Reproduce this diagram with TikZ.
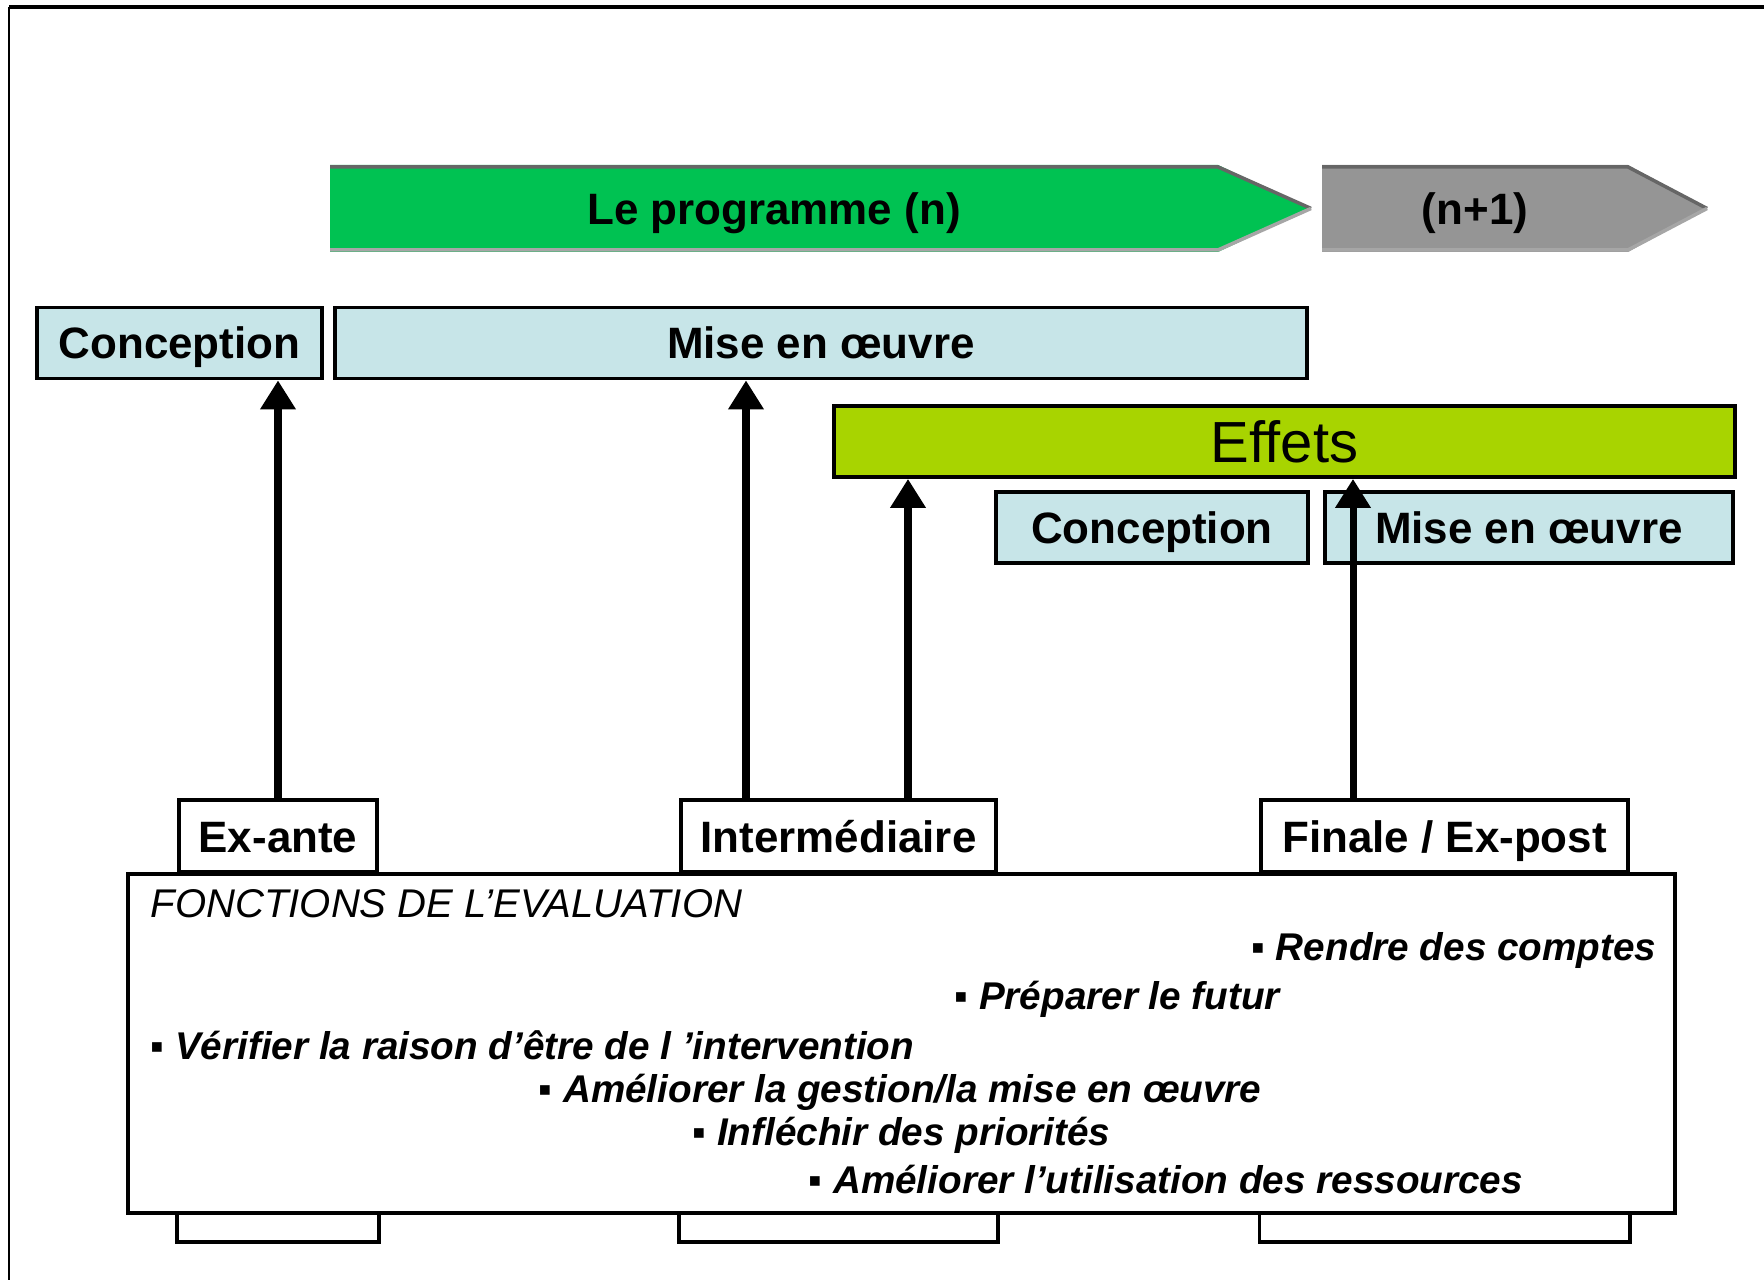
\documentclass[tikz,border=0pt]{standalone}
\usepackage{fontspec}
\setmainfont{Liberation Sans}
\usetikzlibrary{arrows.meta,positioning}
\definecolor{progGreen}{RGB}{0,194,82}
\definecolor{nextGray}{RGB}{149,149,149}
\definecolor{phaseBlue}{RGB}{199,229,232}
\definecolor{effetsLime}{RGB}{168,212,0}
\tikzset{
  phasenode/.style = {align=center, inner sep=0pt, text centered,
    font=\fontsize{12.5}{15}\selectfont\bfseries, draw=black,
    line width=1.1pt, minimum height=0.71cm, text height=9pt, text depth=0pt},
  ph_b/.style = {phasenode, fill=phaseBlue},
  ph_e/.style = {phasenode, fill=effetsLime,
    font=\fontsize{16.5}{19}\selectfont, text height=11.8pt},
  ph_w/.style = {phasenode, fill=white, line width=1pt,
    minimum height=0.72cm, anchor=south},
  prog_t/.style = {inner sep=0pt, font=\fontsize{12.5}{15}\selectfont\bfseries,
    text height=9pt, text depth=0pt},
  fn_head/.style = {inner sep=0pt, anchor=west,
    font=\fontsize{11.4}{13}\selectfont\itshape},
  fn_item/.style = {inner sep=0pt, anchor=west,
    font=\fontsize{11}{13}\selectfont\bfseries\itshape},
  arrow_k/.style = {->, line width=2pt}}

\begin{document}
\begin{tikzpicture}[>={Triangle[length=2.9mm,width=3.4mm]}]
\useasboundingbox (0,0) rectangle (17.64,12.80);
\draw[line width=0.8pt] (0.09,0) -- (0.09,12.73);
\draw[line width=1pt] (0.09,12.73) -- (17.64,12.73);

% programme (n) et (n+1)
\fill[progGreen] (3.30,10.28) -- (12.18,10.28) -- (13.11,10.715)
  -- (12.18,11.15) -- (3.30,11.15) -- cycle;
\draw[black!60, line width=1pt] (3.30,11.13) -- (12.18,11.13) -- (13.11,10.715);
\draw[black!35, line width=1pt] (3.30,10.30) -- (12.18,10.30) -- (13.11,10.715);
\node[prog_t] (prog) at (7.74,10.715) {Le programme (n)};
\fill[nextGray] (13.22,10.28) -- (16.28,10.28) -- (17.07,10.715)
  -- (16.28,11.15) -- (13.22,11.15) -- cycle;
\draw[black!60, line width=1pt] (13.22,11.13) -- (16.28,11.13) -- (17.07,10.715);
\draw[black!35, line width=1pt] (13.22,10.30) -- (16.28,10.30) -- (17.07,10.715);
\node[prog_t] (next) at (14.75,10.715) {(n+1)};

% phases
\node[ph_b, minimum width=2.85cm] (concA) at (1.795,9.37) {Conception};
\node[ph_b, minimum width=9.72cm, right=0.09cm of concA] (miseA) {Mise en œuvre};
\node[ph_e, minimum width=9.01cm] (effets) at (12.845,8.385) {Effets};
\node[ph_b, minimum width=3.12cm] (concB) at (11.52,7.525) {Conception};
\node[ph_b, minimum width=4.08cm, right=0.13cm of concB] (miseB) {Mise en œuvre};

% fonctions
\node[draw, line width=1.1pt, fill=white, minimum width=15.47cm,
  minimum height=3.39cm, inner sep=0pt] (fonctions) at (9.015,2.365) {};
\node[ph_w, minimum width=1.98cm] (exante) at (2.78,4.06) {Ex-ante};
\node[ph_w, minimum width=3.15cm] (interm) at (8.385,4.06) {Intermédiaire};
\node[ph_w, minimum width=3.67cm] (finale) at (14.445,4.06) {Finale / Ex-post};
\foreach \t in {exante, interm, finale}
  \draw[line width=1pt] (\t.west |- fonctions.south) -- ++(0,-0.27)
    -| (\t.east |- fonctions.south);

\node[fn_head] (titre) at (1.50,3.76) {FONCTIONS DE L’EVALUATION};
\node[fn_item, anchor=east] (rendre) at (16.57,3.29) {▪ Rendre des comptes};
\node[fn_item] (preparer) at (9.54,2.81) {▪ Préparer le futur};
\node[fn_item] (verifier) at (1.50,2.35) {▪ Vérifier la raison d’être de l ’intervention};
\node[fn_item] (gestion) at (5.38,1.88) {▪ Améliorer la gestion/la mise en œuvre};
\node[fn_item] (inflechir) at (6.92,1.45) {▪ Infléchir des priorités};
\node[fn_item] (ressources) at (8.08,1.00) {▪ Améliorer l’utilisation des ressources};

% fleches
\draw[arrow_k] (exante.north) -- (exante.north |- concA.south);
\draw[arrow_k] ([xshift=-0.925cm]interm.north) -- ([xshift=-0.925cm]interm.north |- miseA.south);
\draw[arrow_k] ([xshift=0.695cm]interm.north) -- ([xshift=0.695cm]interm.north |- effets.south);
\draw[arrow_k] ([xshift=-0.915cm]finale.north) -- ([xshift=-0.915cm]finale.north |- effets.south);
\end{tikzpicture}
\end{document}
